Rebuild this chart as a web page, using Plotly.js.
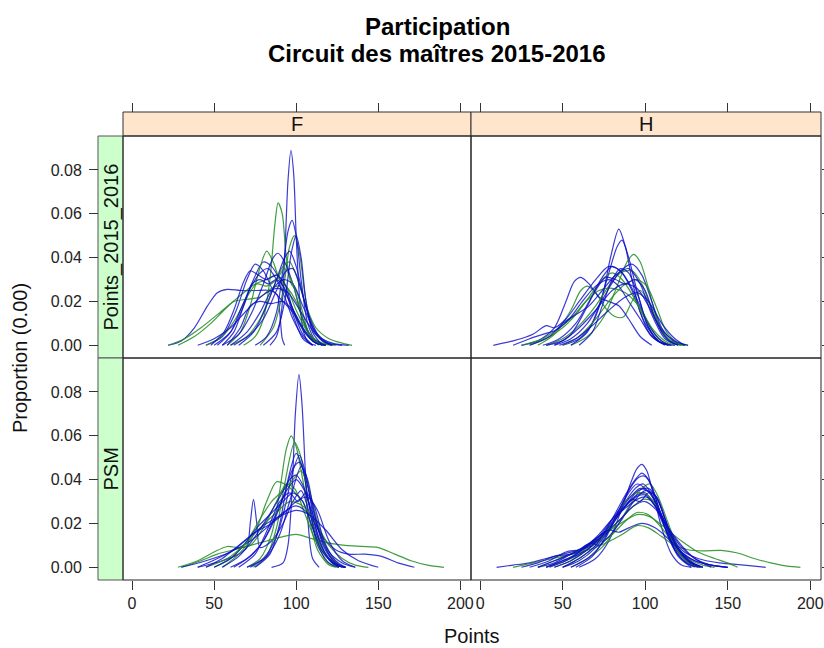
<!DOCTYPE html>
<html>
<head>
<meta charset="utf-8">
<script src="https://cdn.plot.ly/plotly-3.0.1.min.js"></script>
<style>html,body{margin:0;padding:0;background:#fff;}#chart{width:824px;height:648px;}</style>
</head>
<body>
<div id="chart"></div>
<script>
// ---- Data (x = Points, y = density) ----
const columns = ["F", "H"];
const rows = ["Points_2015_2016", "PSM"];
const xTicks = [0, 50, 100, 150, 200];
const yTicks = [0, 0.02, 0.04, 0.06, 0.08];

const F_points_blue = [
  [[84,0],[88,0.004],[91,0.015],[93,0.04],[95,0.075],[96.8,0.089],[98.5,0.078],[100,0.05],[102,0.022],[104.5,0.006],[108,0.001],[112,0]],
  [[22,0],[30,0.002],[38,0.008],[46,0.018],[52,0.024],[58,0.0255],[66,0.025],[75,0.025],[84,0.025],[88.5,0.023],[90,0.015],[91.5,0.003],[93,0]],
  [[75,0],[82,0.004],[88,0.015],[92,0.035],[95,0.052],[97.5,0.057],[100,0.05],[103,0.03],[107,0.01],[112,0.002],[118,0]],
  [[45,0],[55,0.004],[63,0.015],[70,0.03],[75,0.037],[80,0.034],[86,0.025],[92,0.02],[98,0.015],[105,0.006],[112,0.001],[118,0]],
  [[50,0],[60,0.006],[68,0.018],[74,0.03],[80,0.038],[85,0.036],[90,0.03],[96,0.02],[102,0.01],[110,0.002],[116,0]],
  [[55,0],[65,0.005],[73,0.015],[80,0.028],[86,0.04],[89,0.042],[93,0.038],[98,0.028],[104,0.012],[110,0.003],[118,0]],
  [[60,0],[70,0.006],[78,0.015],[85,0.025],[92,0.03],[98,0.028],[104,0.018],[112,0.006],[120,0.001],[128,0]],
  [[40,0],[50,0.003],[60,0.008],[70,0.016],[80,0.023],[88,0.026],[95,0.024],[103,0.015],[112,0.005],[122,0.001],[132,0]],
  [[48,0],[56,0.006],[62,0.016],[68,0.029],[72,0.034],[77,0.032],[82,0.03],[88,0.032],[93,0.028],[98,0.016],[104,0.005],[110,0]],
  [[80,0],[88,0.006],[93,0.02],[97,0.042],[100,0.05],[103,0.04],[106,0.02],[110,0.006],[116,0]],
  [[62,0],[72,0.005],[80,0.012],[88,0.025],[94,0.034],[98,0.035],[102,0.028],[108,0.013],[115,0.003],[122,0]],
  [[55,0],[62,0.006],[68,0.018],[73,0.028],[78,0.03],[83,0.028],[88,0.03],[93,0.026],[98,0.014],[104,0.003],[110,0]],
  [[58,0],[66,0.008],[72,0.018],[78,0.02],[85,0.019],[92,0.02],[98,0.016],[105,0.007],[112,0.001],[118,0]],
  [[52,0],[60,0.006],[66,0.016],[72,0.026],[78,0.033],[83,0.035],[88,0.03],[93,0.022],[98,0.012],[104,0.004],[110,0]],
  [[65,0],[74,0.006],[82,0.018],[88,0.03],[93,0.04],[96,0.043],[100,0.036],[105,0.02],[110,0.008],[116,0.002],[122,0]]
];
const F_points_green = [
  [[68,0],[75,0.004],[80,0.012],[84,0.03],[87,0.055],[89,0.065],[91.5,0.06],[94,0.04],[97,0.028],[100,0.025],[104,0.015],[108,0.005],[114,0]],
  [[78,0],[86,0.008],[92,0.025],[96,0.045],[99,0.05],[102,0.042],[106,0.02],[111,0.006],[118,0.001],[124,0]],
  [[22,0],[32,0.003],[42,0.008],[52,0.014],[60,0.019],[68,0.024],[75,0.028],[82,0.03],[88,0.032],[94,0.027],[100,0.016],[108,0.005],[116,0.001],[122,0]],
  [[28,0],[38,0.004],[48,0.01],[56,0.016],[62,0.02],[70,0.021],[78,0.022],[85,0.026],[90,0.027],[96,0.02],[102,0.01],[110,0.002],[118,0]],
  [[58,0],[66,0.006],[72,0.018],[77,0.033],[82,0.043],[86,0.038],[90,0.03],[95,0.026],[100,0.02],[106,0.008],[112,0.002],[118,0]],
  [[60,0],[70,0.004],[78,0.012],[86,0.026],[92,0.036],[96,0.038],[100,0.032],[106,0.018],[112,0.008],[120,0.003],[128,0.001],[134,0]],
  [[45,0],[55,0.004],[63,0.012],[70,0.022],[76,0.028],[82,0.027],[88,0.03],[93,0.035],[98,0.028],[104,0.012],[110,0.003],[116,0]]
];

const H_points_blue = [
  [[50,0],[60,0.003],[68,0.01],[74,0.022],[79,0.04],[84,0.053],[88,0.045],[92,0.03],[97,0.015],[103,0.005],[110,0.001],[116,0]],
  [[55,0],[65,0.006],[72,0.018],[78,0.033],[83,0.045],[86,0.048],[90,0.04],[95,0.025],[101,0.01],[108,0.002],[114,0]],
  [[25,0],[35,0.002],[45,0.008],[52,0.02],[57,0.029],[61,0.031],[66,0.028],[72,0.022],[78,0.02],[84,0.018],[90,0.012],[97,0.004],[104,0]],
  [[8,0],[20,0.002],[32,0.005],[40,0.009],[45,0.008],[52,0.012],[60,0.02],[70,0.03],[78,0.036],[85,0.034],[92,0.025],[100,0.01],[108,0.002],[115,0]],
  [[45,0],[55,0.003],[65,0.01],[75,0.022],[84,0.033],[92,0.037],[98,0.032],[104,0.02],[110,0.008],[117,0.002],[124,0]],
  [[38,0],[48,0.003],[58,0.01],[66,0.02],[74,0.031],[80,0.036],[86,0.033],[92,0.026],[98,0.016],[105,0.006],[112,0.001],[118,0]],
  [[40,0],[50,0.002],[60,0.008],[70,0.016],[80,0.025],[88,0.028],[95,0.026],[102,0.018],[110,0.007],[118,0.002],[126,0]],
  [[30,0],[42,0.004],[50,0.01],[58,0.014],[66,0.018],[74,0.025],[82,0.032],[90,0.035],[97,0.028],[104,0.014],[112,0.003],[120,0]],
  [[48,0],[58,0.003],[68,0.009],[78,0.016],[88,0.022],[95,0.024],[102,0.02],[110,0.01],[118,0.003],[124,0]],
  [[60,0],[68,0.006],[74,0.018],[80,0.03],[85,0.035],[90,0.033],[96,0.022],[102,0.008],[108,0.002],[114,0]],
  [[20,0],[30,0.003],[38,0.005],[46,0.007],[54,0.012],[62,0.02],[70,0.027],[78,0.03],[84,0.027],[90,0.02],[97,0.012],[104,0.004],[112,0]],
  [[45,0],[55,0.005],[63,0.015],[70,0.025],[76,0.031],[82,0.03],[88,0.028],[94,0.03],[100,0.025],[106,0.012],[113,0.003],[120,0]]
];
const H_points_green = [
  [[55,0],[65,0.004],[75,0.013],[83,0.027],[89,0.038],[93,0.0415],[97,0.038],[102,0.026],[108,0.01],[115,0.002],[122,0]],
  [[35,0],[45,0.005],[55,0.016],[61,0.025],[65,0.027],[70,0.024],[76,0.017],[82,0.013],[87,0.013],[92,0.02],[97,0.025],[102,0.02],[108,0.01],[115,0.002],[122,0]],
  [[40,0],[50,0.003],[60,0.009],[70,0.018],[78,0.027],[85,0.033],[92,0.034],[98,0.028],[104,0.016],[111,0.005],[118,0.001],[124,0]],
  [[30,0],[40,0.003],[50,0.008],[58,0.014],[66,0.022],[74,0.03],[80,0.033],[86,0.03],[93,0.022],[100,0.012],[108,0.003],[115,0]],
  [[50,0],[60,0.004],[70,0.012],[80,0.022],[88,0.028],[95,0.03],[101,0.027],[107,0.017],[113,0.006],[120,0.001],[126,0]],
  [[25,0],[38,0.003],[48,0.008],[56,0.013],[64,0.02],[72,0.025],[80,0.026],[88,0.024],[96,0.018],[104,0.008],[112,0.002],[118,0]]
];

const F_psm_blue = [
  [[85,0],[92,0.002],[95,0.01],[97.5,0.035],[99.5,0.07],[101.7,0.088],[103.5,0.075],[105.5,0.045],[107.5,0.018],[110,0.004],[114,0]],
  [[40,0],[55,0.003],[65,0.006],[70,0.009],[72,0.02],[74,0.031],[76,0.02],[78,0.009],[85,0.012],[92,0.02],[98,0.03],[103,0.035],[108,0.025],[115,0.01],[122,0.002],[130,0]],
  [[70,0],[80,0.004],[88,0.014],[94,0.03],[98,0.044],[102,0.051],[106,0.042],[110,0.025],[115,0.01],[122,0.002],[130,0]],
  [[75,0],[84,0.006],[90,0.02],[95,0.04],[100,0.052],[104,0.045],[108,0.028],[113,0.01],[120,0.002],[126,0]],
  [[60,0],[70,0.004],[80,0.012],[88,0.025],[95,0.036],[100,0.04],[105,0.035],[112,0.02],[120,0.007],[128,0.002],[136,0]],
  [[30,0],[45,0.003],[60,0.007],[72,0.012],[82,0.018],[92,0.025],[100,0.028],[108,0.024],[116,0.014],[124,0.008],[132,0.006],[142,0.006],[152,0.005],[162,0.002],[172,0]],
  [[50,0],[60,0.004],[68,0.01],[76,0.018],[84,0.024],[92,0.03],[98,0.034],[104,0.03],[110,0.018],[116,0.007],[124,0.001],[130,0]],
  [[45,0],[55,0.004],[65,0.01],[75,0.016],[85,0.02],[93,0.025],[100,0.03],[107,0.032],[113,0.026],[120,0.012],[128,0.003],[136,0]],
  [[72,0],[82,0.005],[90,0.015],[96,0.03],[103,0.046],[107,0.04],[111,0.025],[117,0.01],[124,0.002],[130,0]],
  [[55,0],[65,0.005],[74,0.013],[82,0.022],[90,0.032],[96,0.04],[100,0.042],[105,0.036],[111,0.02],[118,0.006],[126,0]],
  [[40,0],[52,0.004],[62,0.008],[72,0.014],[82,0.02],[92,0.024],[100,0.026],[108,0.024],[118,0.017],[128,0.008],[138,0.003],[150,0]],
  [[65,0],[75,0.006],[83,0.018],[90,0.03],[96,0.034],[101,0.03],[106,0.034],[111,0.028],[117,0.012],[124,0.003],[130,0]],
  [[62,0],[72,0.005],[80,0.012],[87,0.022],[93,0.034],[98,0.045],[102,0.048],[106,0.04],[111,0.024],[117,0.009],[124,0.002],[130,0]]
];
const F_psm_green = [
  [[70,0],[78,0.004],[85,0.015],[90,0.035],[94,0.054],[97,0.06],[100,0.055],[104,0.04],[108,0.022],[113,0.008],[120,0.001],[126,0]],
  [[74,0],[82,0.005],[88,0.018],[93,0.038],[99,0.057],[103,0.05],[107,0.032],[112,0.014],[118,0.003],[124,0]],
  [[55,0],[65,0.006],[75,0.016],[82,0.03],[88,0.039],[93,0.038],[98,0.035],[104,0.03],[110,0.018],[117,0.007],[124,0.001],[130,0]],
  [[30,0],[42,0.003],[52,0.006],[62,0.008],[72,0.01],[82,0.012],[92,0.014],[100,0.015],[110,0.013],[120,0.011],[130,0.01],[140,0.0095],[150,0.009],[160,0.006],[170,0.003],[180,0.001],[190,0]],
  [[28,0],[40,0.003],[50,0.007],[58,0.0095],[65,0.009],[72,0.01],[80,0.018],[88,0.03],[94,0.038],[99,0.036],[105,0.025],[112,0.012],[120,0.004],[128,0]],
  [[50,0],[60,0.004],[70,0.012],[78,0.022],[85,0.03],[92,0.035],[98,0.04],[103,0.044],[108,0.035],[114,0.018],[120,0.006],[128,0]],
  [[45,0],[58,0.004],[68,0.01],[78,0.018],[88,0.025],[96,0.03],[104,0.028],[112,0.02],[120,0.01],[128,0.004],[136,0.001],[144,0]]
];

const H_psm_blue = [
  [[60,0],[70,0.004],[78,0.012],[85,0.025],[91,0.038],[95,0.045],[98,0.047],[101,0.044],[105,0.033],[110,0.018],[116,0.006],[122,0.001],[128,0]],
  [[55,0],[65,0.004],[75,0.012],[83,0.024],[90,0.035],[96,0.041],[100,0.0415],[104,0.037],[109,0.025],[115,0.012],[122,0.004],[130,0]],
  [[10,0],[20,0.001],[30,0.002],[40,0.004],[50,0.006],[58,0.0075],[65,0.009],[72,0.013],[80,0.02],[88,0.028],[95,0.033],[100,0.034],[106,0.028],[112,0.018],[120,0.008],[130,0.003],[140,0.001],[150,0]],
  [[40,0],[50,0.003],[60,0.006],[68,0.01],[75,0.015],[83,0.023],[90,0.03],[96,0.035],[102,0.036],[108,0.03],[114,0.018],[120,0.007],[128,0.002],[135,0]],
  [[35,0],[45,0.002],[55,0.006],[63,0.009],[70,0.012],[78,0.018],[86,0.026],[94,0.032],[100,0.033],[106,0.028],[114,0.017],[122,0.008],[132,0.004],[145,0.002],[160,0.001],[173,0]],
  [[30,0],[42,0.003],[52,0.007],[60,0.008],[66,0.01],[72,0.014],[80,0.022],[88,0.03],[94,0.036],[99,0.038],[104,0.033],[110,0.022],[117,0.01],[125,0.003],[133,0]],
  [[50,0],[60,0.003],[70,0.009],[78,0.017],[86,0.026],[92,0.031],[97,0.03],[102,0.034],[107,0.032],[113,0.02],[120,0.008],[128,0.002],[135,0]],
  [[45,0],[55,0.003],[65,0.008],[75,0.015],[85,0.022],[93,0.028],[100,0.03],[107,0.026],[114,0.018],[122,0.01],[130,0.004],[140,0.001],[150,0]],
  [[25,0],[35,0.002],[45,0.005],[55,0.006],[62,0.008],[70,0.013],[78,0.017],[84,0.016],[90,0.018],[98,0.02],[106,0.018],[114,0.013],[122,0.007],[130,0.003],[140,0.001],[150,0]],
  [[58,0],[68,0.005],[76,0.014],[84,0.026],[90,0.034],[95,0.038],[100,0.036],[106,0.03],[112,0.02],[118,0.008],[125,0.002],[132,0]],
  [[40,0],[50,0.003],[58,0.006],[64,0.01],[68,0.011],[72,0.01],[78,0.014],[86,0.022],[93,0.03],[100,0.035],[106,0.033],[112,0.022],[119,0.01],[127,0.003],[135,0]],
  [[50,0],[60,0.004],[70,0.01],[80,0.022],[88,0.033],[94,0.04],[98,0.043],[102,0.04],[107,0.03],[113,0.016],[120,0.005],[128,0]],
  [[35,0],[45,0.003],[55,0.006],[62,0.009],[68,0.012],[75,0.016],[83,0.024],[91,0.032],[97,0.036],[103,0.034],[110,0.024],[117,0.012],[125,0.004],[133,0]],
  [[42,0],[52,0.003],[62,0.008],[72,0.015],[80,0.022],[88,0.027],[95,0.031],[101,0.032],[107,0.027],[113,0.019],[121,0.01],[130,0.004],[140,0]]
];
const H_psm_green = [
  [[55,0],[65,0.004],[75,0.01],[84,0.02],[92,0.03],[98,0.036],[103,0.038],[108,0.032],[114,0.02],[120,0.009],[127,0.002],[134,0]],
  [[40,0],[52,0.003],[60,0.006],[66,0.01],[70,0.0126],[74,0.012],[80,0.015],[88,0.021],[95,0.025],[102,0.024],[110,0.018],[118,0.01],[126,0.004],[135,0.001],[142,0]],
  [[20,0],[32,0.002],[44,0.004],[56,0.006],[66,0.008],[76,0.011],[86,0.015],[95,0.019],[102,0.018],[110,0.014],[118,0.01],[126,0.008],[135,0.0075],[146,0.0077],[156,0.0065],[166,0.004],[176,0.002],[186,0.0005],[194,0]],
  [[45,0],[55,0.003],[65,0.008],[75,0.014],[85,0.022],[93,0.028],[99,0.031],[105,0.03],[111,0.022],[118,0.01],[126,0.003],[134,0]],
  [[35,0],[45,0.003],[55,0.006],[65,0.01],[75,0.015],[85,0.02],[95,0.024],[103,0.023],[112,0.018],[122,0.012],[132,0.007],[142,0.004],[150,0.002],[156,0]],
  [[50,0],[60,0.004],[70,0.01],[80,0.02],[88,0.03],[95,0.034],[101,0.033],[107,0.028],[113,0.018],[120,0.007],[128,0.001],[134,0]]
];

// ---- Build ----
const BLUE = "rgba(10,10,200,0.8)";
const GREEN = "rgba(30,140,30,0.85)";
const FONT = "Liberation Sans, Arial, Helvetica, sans-serif";

const panels = [
  {blue: F_points_blue, green: F_points_green, xa: "x", ya: "y"},
  {blue: H_points_blue, green: H_points_green, xa: "x2", ya: "y2"},
  {blue: F_psm_blue, green: F_psm_green, xa: "x3", ya: "y3"},
  {blue: H_psm_blue, green: H_psm_green, xa: "x4", ya: "y4"}
];

const traces = [];
function addCurve(c, col, p) {
  traces.push({
    type: "scatter", mode: "lines",
    x: c.map(d => d[0]), y: c.map(d => d[1]),
    xaxis: p.xa, yaxis: p.ya,
    line: {color: col, width: 1.2, shape: "spline", smoothing: 0.8},
    hoverinfo: "skip", showlegend: false
  });
}
panels.forEach(p => {
  const n = Math.max(p.blue.length, p.green.length);
  for (let i = 0; i < n; i++) {
    if (i < p.blue.length) addCurve(p.blue[i], BLUE, p);
    if (i < p.green.length) addCurve(p.green[i], GREEN, p);
  }
});
// carriers for the top tick axes
traces.push({type: "scatter", x: [], y: [], xaxis: "x5", yaxis: "y", showlegend: false});
traces.push({type: "scatter", x: [], y: [], xaxis: "x6", yaxis: "y2", showlegend: false});

const W = 824, H = 648;
const px = v => v / W, py = v => 1 - v / H;
const colDom = [[px(123), px(471)], [px(471), px(821)]];
const rowDom = [[py(358), py(136)], [py(580), py(358)]];
const XR = [-5.5, 206.5], YR = [-0.0058, 0.0955];

const baseX = {range: XR, showgrid: false, zeroline: false, showline: false, fixedrange: true,
  tickvals: xTicks, ticks: "", showticklabels: false};
const baseY = {range: YR, showgrid: false, zeroline: false, showline: false, fixedrange: true,
  tickvals: yTicks, ticks: "", showticklabels: false};
const tickStyle = {ticks: "outside", ticklen: 9, tickwidth: 1, tickcolor: "#333",
  tickfont: {family: FONT, size: 16, color: "#222"}};

const layout = {
  width: W, height: H,
  margin: {l: 0, r: 0, t: 0, b: 0, pad: 0},
  paper_bgcolor: "#fff", plot_bgcolor: "rgba(0,0,0,0)",
  showlegend: false, hovermode: false,
  xaxis:  Object.assign({}, baseX, {domain: colDom[0], anchor: "y"}),
  xaxis2: Object.assign({}, baseX, {domain: colDom[1], anchor: "y2"}),
  xaxis3: Object.assign({}, baseX, tickStyle, {domain: colDom[0], anchor: "y3", showticklabels: true, tickformat: "d"}),
  xaxis4: Object.assign({}, baseX, tickStyle, {domain: colDom[1], anchor: "y4", showticklabels: true, tickformat: "d"}),
  xaxis5: Object.assign({}, baseX, tickStyle, {overlaying: "x", anchor: "free", position: py(112), side: "top", showticklabels: false}),
  xaxis6: Object.assign({}, baseX, tickStyle, {overlaying: "x2", anchor: "free", position: py(112), side: "top", showticklabels: false}),
  yaxis:  Object.assign({}, baseY, tickStyle, {domain: rowDom[0], anchor: "free", position: px(98), side: "left", showticklabels: true, tickformat: ".2f", ticklabelstandoff: 4}),
  yaxis2: Object.assign({}, baseY, tickStyle, {domain: rowDom[0], anchor: "x2", side: "right", showticklabels: false}),
  yaxis3: Object.assign({}, baseY, tickStyle, {domain: rowDom[1], anchor: "free", position: px(98), side: "left", showticklabels: true, tickformat: ".2f", ticklabelstandoff: 4}),
  yaxis4: Object.assign({}, baseY, tickStyle, {domain: rowDom[1], anchor: "x4", side: "right", showticklabels: false}),
  shapes: [],
  annotations: []
};

// panel frames
[["x","y"],["x2","y2"],["x3","y3"],["x4","y4"]].forEach(([xa, ya]) => {
  layout.shapes.push({type: "rect", xref: xa + " domain", yref: ya + " domain", x0: 0, x1: 1, y0: 0, y1: 1,
    line: {color: "#222", width: 1}, fillcolor: "rgba(0,0,0,0)", layer: "above"});
});
// top strips
["x", "x2"].forEach((xa, i) => {
  layout.shapes.push({type: "rect", xref: xa + " domain", yref: "paper", x0: 0, x1: 1, y0: py(136), y1: py(112),
    line: {color: "#333", width: 1}, fillcolor: "#ffe5cc", layer: "below"});
  layout.annotations.push({xref: xa + " domain", yref: "paper", x: 0.5, y: py(124), text: columns[i],
    showarrow: false, font: {family: FONT, size: 20, color: "#111"}, xanchor: "center", yanchor: "middle"});
});
// left strips
["y", "y3"].forEach((ya, i) => {
  layout.shapes.push({type: "rect", xref: "paper", yref: ya + " domain", x0: px(98), x1: px(123), y0: 0, y1: 1,
    line: {color: "#555", width: 1}, fillcolor: "#ccffcc", layer: "below"});
  layout.annotations.push({xref: "paper", yref: ya + " domain", x: px(110.5), y: 0.5, text: rows[i], textangle: -90,
    showarrow: false, font: {family: FONT, size: 20, color: "#111"}, xanchor: "center", yanchor: "middle"});
});
// titles
layout.annotations.push({xref: "paper", yref: "paper", x: px(437), y: py(27), text: "<b>Participation</b>",
  showarrow: false, font: {family: FONT, size: 24, color: "#000"}, xanchor: "center", yanchor: "middle"});
layout.annotations.push({xref: "paper", yref: "paper", x: px(437), y: py(53), text: "<b>Circuit des maîtres 2015-2016</b>",
  showarrow: false, font: {family: FONT, size: 24, color: "#000"}, xanchor: "center", yanchor: "middle"});
layout.annotations.push({xref: "paper", yref: "paper", x: px(472), y: py(636), text: "Points",
  showarrow: false, font: {family: FONT, size: 20, color: "#111"}, xanchor: "center", yanchor: "middle"});
layout.annotations.push({xref: "paper", yref: "paper", x: px(20), y: py(358), text: "Proportion (0.00)", textangle: -90,
  showarrow: false, font: {family: FONT, size: 20, color: "#111"}, xanchor: "center", yanchor: "middle"});

Plotly.newPlot("chart", traces, layout, {displayModeBar: false, staticPlot: true});
</script>
</body>
</html>
